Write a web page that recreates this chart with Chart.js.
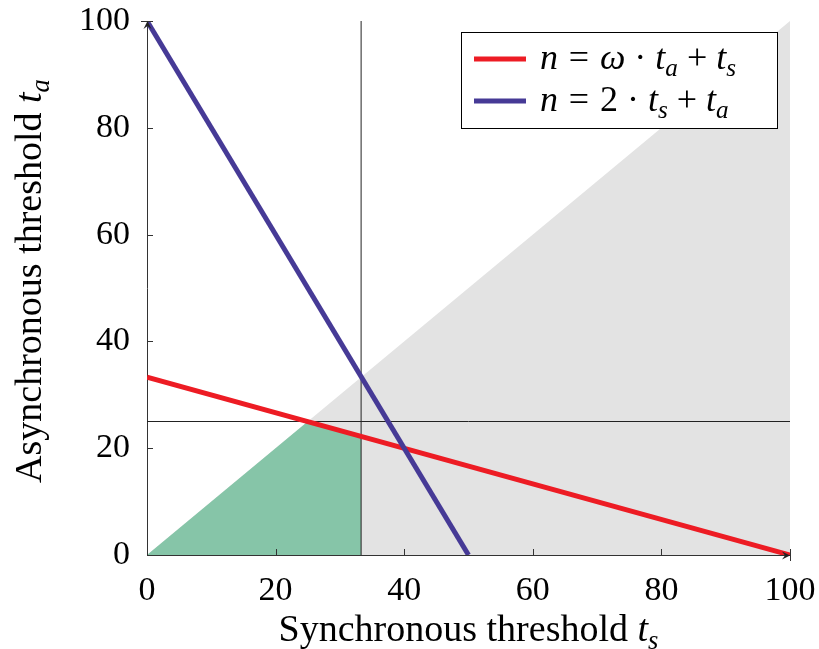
<!DOCTYPE html>
<html lang="en">
<head>
  <meta charset="UTF-8">
  <title>Threshold regions</title>
  <script src="https://cdn.jsdelivr.net/npm/chart.js"></script>
  <style>
    html, body { margin: 0; padding: 0; background: #fff; }
    #wrap { width: 819px; height: 649px; }
  </style>
</head>
<body>
  <div id="wrap"><canvas id="chart" width="819" height="649"></canvas></div>
  <script>
    // Lines in the (t_s, t_a) plane, read at their end points
    const redTs = [0, 100];
    const redTa = [33.3, 0];
    const blueTs = [0, 50];
    const blueTa = [100, 0];
    // shaded regions
    const grayTs = [0, 100];
    const grayTa = [0, 100];
    const greenTs = [0, 25, 33.3, 33.3];
    const greenTa = [0, 25, 22.2, 0];
    // guide lines
    const vLineTs = [33.3, 33.3];
    const vLineTa = [0, 100];
    const hLineTs = [0, 100];
    const hLineTa = [25, 25];
    const ticks = [0, 20, 40, 60, 80, 100];

    const SERIF = "'Liberation Serif', 'Times New Roman', serif";
    const pts = (xs, ys) => xs.map((x, i) => ({ x: x, y: ys[i] }));

    // pieces: 0 upright, 1 italic, 2 italic subscript, 3 gap (em)
    const legendItems = [
      { color: '#ed1c24', parts: [['n', 1], [0.3, 3], ['=', 0], [0.3, 3], ['ω', 1], [0.25, 3], ['·', 0], [0.25, 3], ['t', 1], ['a', 2], [0.25, 3], ['+', 0], [0.25, 3], ['t', 1], ['s', 2]] },
      { color: '#463a96', parts: [['n', 1], [0.3, 3], ['=', 0], [0.3, 3], ['2', 0], [0.25, 3], ['·', 0], [0.25, 3], ['t', 1], ['s', 2], [0.25, 3], ['+', 0], [0.25, 3], ['t', 1], ['a', 2]] }
    ];

    function setFont(ctx, p, size) {
      const s = p[1] === 2 ? size * 0.7 : size;
      ctx.font = (p[1] ? 'italic ' : '') + s + 'px ' + SERIF;
    }
    function richWidth(ctx, parts, size) {
      let w = 0;
      parts.forEach(p => {
        if (p[1] === 3) { w += p[0] * size; return; }
        setFont(ctx, p, size);
        w += ctx.measureText(p[0]).width;
      });
      return w;
    }
    function drawRich(ctx, parts, x, y, size) {
      ctx.textAlign = 'left';
      ctx.textBaseline = 'alphabetic';
      parts.forEach(p => {
        if (p[1] === 3) { x += p[0] * size; return; }
        setFont(ctx, p, size);
        ctx.fillText(p[0], x, p[1] === 2 ? y + size * 0.2 : y);
        x += ctx.measureText(p[0]).width;
      });
    }

    // fixed plot box: no extra room for overhanging tick labels
    function fixBox(s) {
      s.paddingTop = 0; s.paddingBottom = 0;
      s.paddingLeft = 0; s.paddingRight = 0;
    }

    const decor = {
      id: 'decor',
      afterDraw(chart) {
        const ctx = chart.ctx;
        const xs = chart.scales.x, ys = chart.scales.y;
        const a = chart.chartArea;
        ctx.save();
        ctx.strokeStyle = '#333';
        ctx.fillStyle = '#222';
        ctx.lineWidth = 1;
        // inward ticks
        ticks.forEach(v => {
          const px = Math.round(xs.getPixelForValue(v)) + 0.5;
          const py = Math.round(ys.getPixelForValue(v)) + 0.5;
          ctx.beginPath();
          ctx.moveTo(px, a.bottom + (v === 100 ? 6 : 0));
          ctx.lineTo(px, a.bottom - 6);
          ctx.moveTo(a.left - (v === 100 ? 6 : 0), py);
          ctx.lineTo(a.left + 6, py);
          ctx.stroke();
        });
        // arrow heads at the axis ends
        const ax = Math.round(a.left) + 0.5, ay = Math.round(a.bottom) + 0.5;
        ctx.beginPath();
        ctx.moveTo(ax, a.top);
        ctx.lineTo(ax - 4, a.top + 8);
        ctx.lineTo(ax, a.top + 5);
        ctx.lineTo(ax + 4, a.top + 8);
        ctx.closePath();
        ctx.fill();
        ctx.beginPath();
        ctx.moveTo(a.right, ay);
        ctx.lineTo(a.right - 8, ay - 4);
        ctx.lineTo(a.right - 5, ay);
        ctx.lineTo(a.right - 8, ay + 4);
        ctx.closePath();
        ctx.fill();

        // axis titles
        ctx.fillStyle = '#000';
        const xt = [['Synchronous threshold ', 0], ['t', 1], ['s', 2]];
        const xw = richWidth(ctx, xt, 38);
        drawRich(ctx, xt, (a.left + a.right) / 2 - xw / 2, 641, 38);
        const yt = [['Asynchronous threshold ', 0], ['t', 1], ['a', 2]];
        const yw = richWidth(ctx, yt, 38);
        ctx.save();
        ctx.translate(41, 281);
        ctx.rotate(-Math.PI / 2);
        drawRich(ctx, yt, -yw / 2, 0, 38);
        ctx.restore();

        // legend box
        ctx.fillStyle = '#fff';
        ctx.fillRect(461, 32, 317, 97);
        ctx.strokeStyle = '#000';
        ctx.strokeRect(461.5, 32.5, 316, 96);
        legendItems.forEach((it, i) => {
          const ly = 59 + i * 42;
          ctx.strokeStyle = it.color;
          ctx.lineWidth = 5;
          ctx.beginPath();
          ctx.moveTo(474, ly);
          ctx.lineTo(526, ly);
          ctx.stroke();
          ctx.fillStyle = '#000';
          drawRich(ctx, it.parts, 540, ly + 10, 36);
        });
        ctx.restore();
      }
    };

    // first dataset is drawn on top
    new Chart(document.getElementById('chart'), {
      type: 'line',
      data: {
        datasets: [
          { data: pts(blueTs, blueTa), borderColor: '#463a96', borderWidth: 5, pointRadius: 0, fill: false },
          { data: pts(redTs, redTa), borderColor: '#ed1c24', borderWidth: 5, pointRadius: 0, fill: false },
          { data: pts(hLineTs, hLineTa), borderColor: '#222', borderWidth: 1, pointRadius: 0, fill: false },
          { data: pts(vLineTs, vLineTa), borderColor: '#222', borderWidth: 1, pointRadius: 0, fill: false },
          { data: pts(greenTs, greenTa), borderWidth: 0, pointRadius: 0, fill: 'origin', backgroundColor: '#86c5a8' },
          { data: pts(grayTs, grayTa), borderWidth: 0, pointRadius: 0, fill: 'origin', backgroundColor: '#e3e3e3' }
        ]
      },
      options: {
        responsive: false,
        animation: false,
        layout: { padding: { top: 21, right: 29, left: 0, bottom: 0 } },
        plugins: { legend: { display: false }, tooltip: { enabled: false } },
        scales: {
          x: {
            type: 'linear', min: 0, max: 100,
            afterFit: s => { s.height = 94; fixBox(s); },
            grid: { display: false, drawTicks: false },
            border: { display: true, color: '#333', width: 1 },
            ticks: { stepSize: 20, padding: 16, color: '#000', font: { family: SERIF, size: 34 }, maxRotation: 0 }
          },
          y: {
            type: 'linear', min: 0, max: 100,
            afterFit: s => { s.width = 147; fixBox(s); },
            grid: { display: false, drawTicks: false },
            border: { display: true, color: '#333', width: 1 },
            ticks: { stepSize: 20, padding: 17, color: '#000', font: { family: SERIF, size: 34 } }
          }
        }
      },
      plugins: [decor]
    });
  </script>
</body>
</html>
